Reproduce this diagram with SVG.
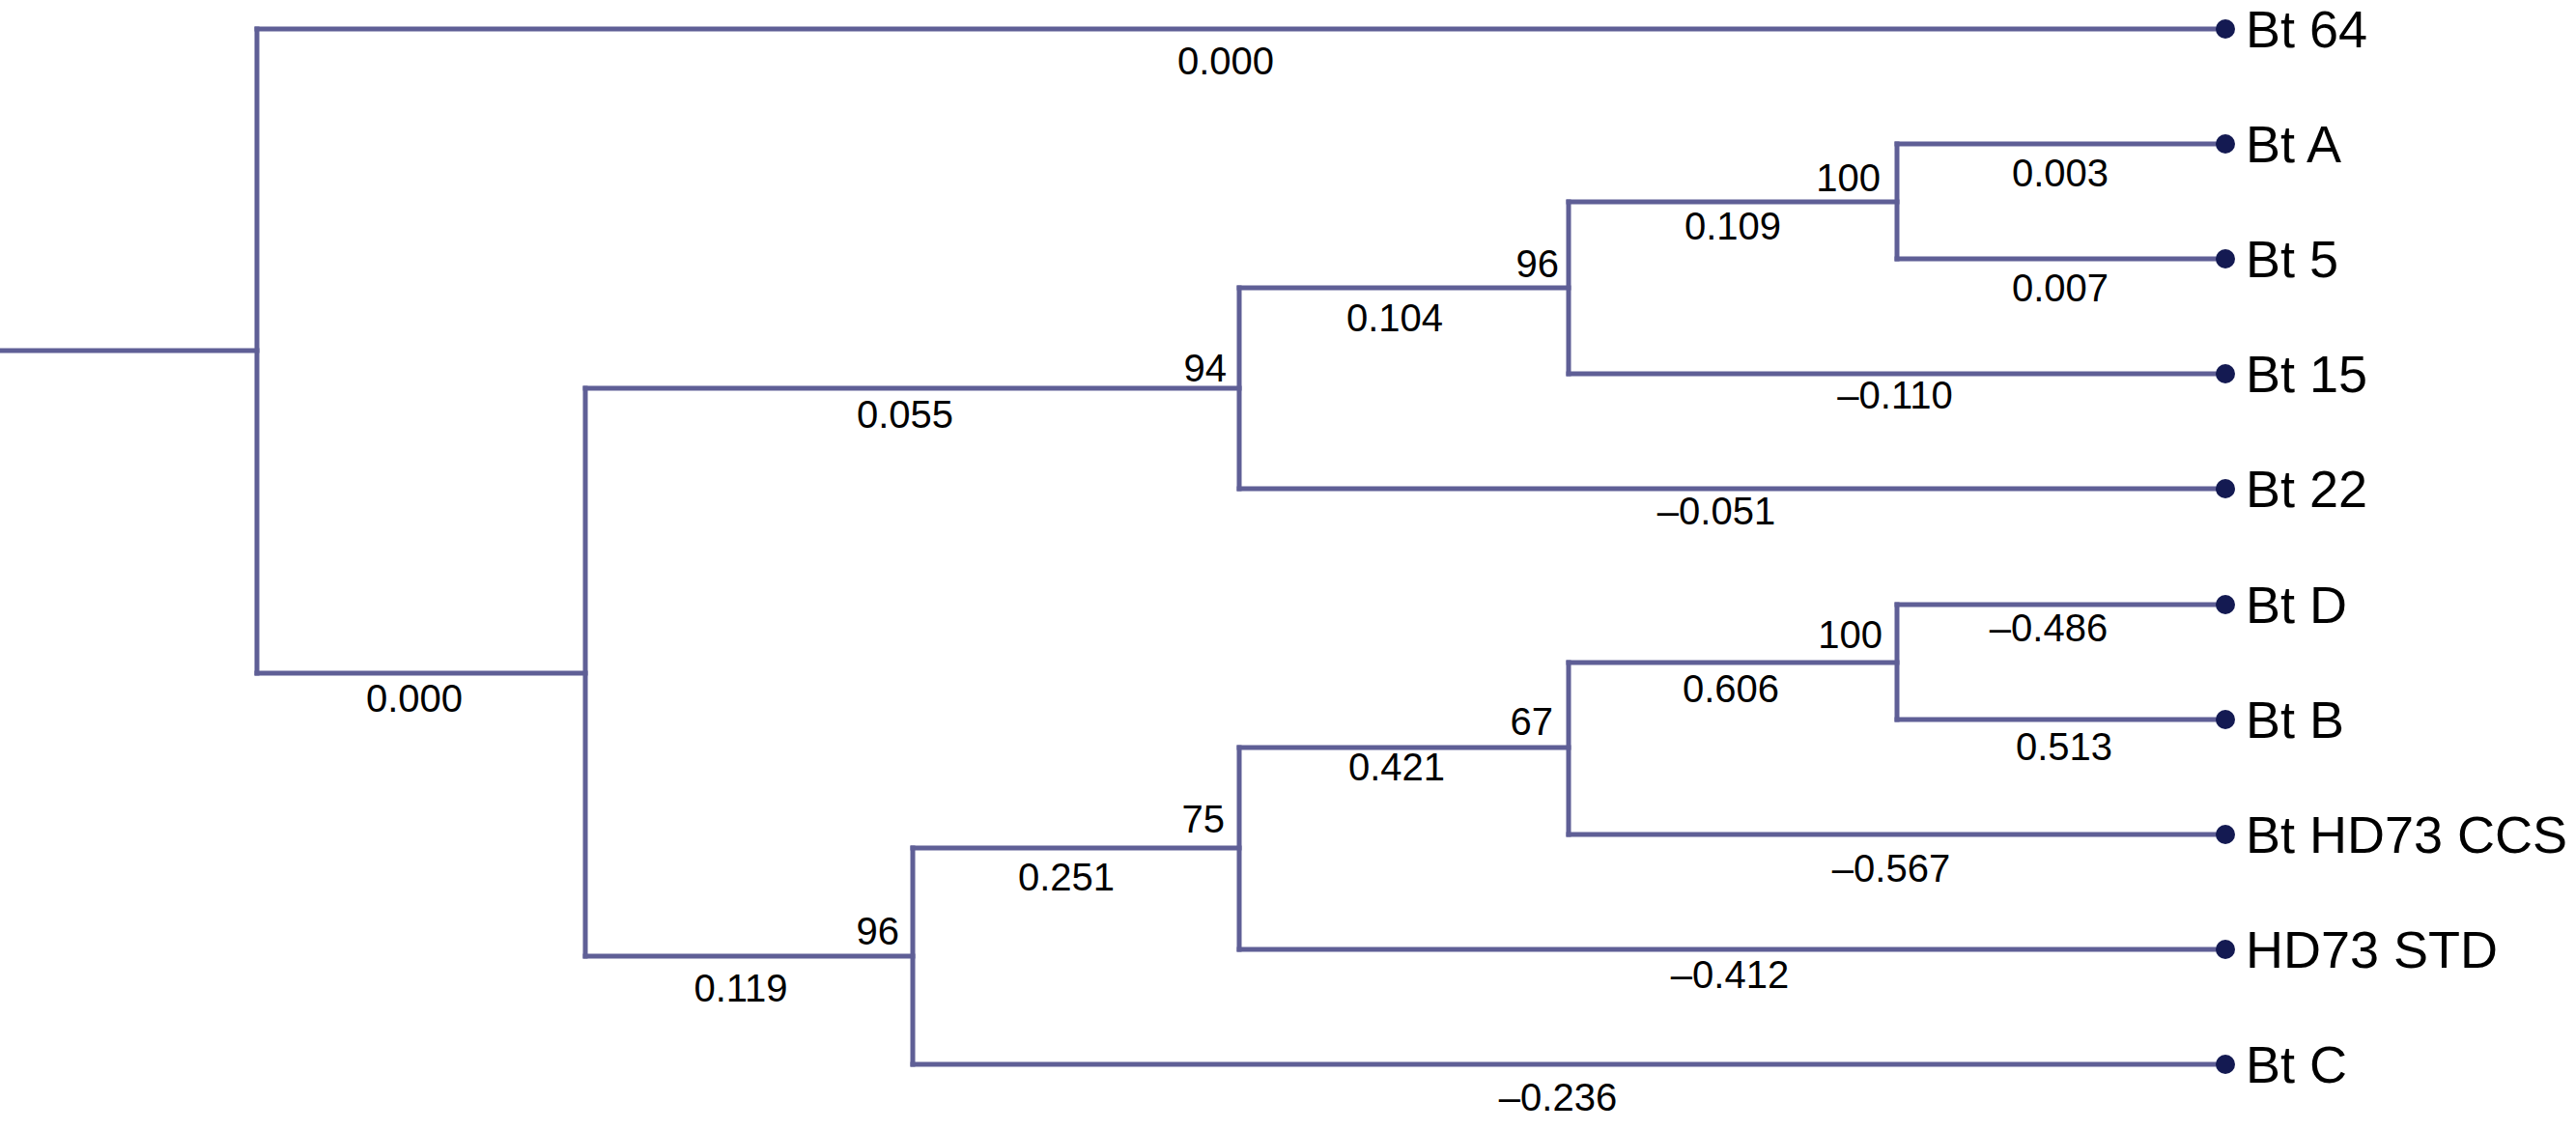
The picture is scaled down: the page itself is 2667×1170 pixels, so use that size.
<svg xmlns="http://www.w3.org/2000/svg" width="2667" height="1170" viewBox="0 0 2667 1170">
<style>
.br{fill:none;stroke:#5f5f96;stroke-width:5;stroke-linecap:square}
.dot{fill:#141a52}
.leaf{font-family:"Liberation Sans",Arial,Helvetica,sans-serif;font-size:54px;fill:#000}
.bl{font-family:"Liberation Sans",Arial,Helvetica,sans-serif;font-size:40px;fill:#000;text-anchor:middle}
.bs{font-family:"Liberation Sans",Arial,Helvetica,sans-serif;font-size:40px;fill:#000;text-anchor:end}
</style>
<rect width="2667" height="1170" fill="#fff"/>
<g id="connectors" class="br">
<path d="M0,363 H266"/>
<path d="M266,30 V697"/>
<path d="M266,30 H2304"/>
<path d="M266,697 H606"/>
<path d="M606,402 V990"/>
<path d="M606,402 H1283"/>
<path d="M606,990 H945"/>
<path d="M1283,298 V506"/>
<path d="M1283,298 H1624"/>
<path d="M1283,506 H2304"/>
<path d="M1624,209 V387"/>
<path d="M1624,209 H1964"/>
<path d="M1624,387 H2304"/>
<path d="M1964,149 V268"/>
<path d="M1964,149 H2304"/>
<path d="M1964,268 H2304"/>
<path d="M945,878 V1102"/>
<path d="M945,878 H1283"/>
<path d="M945,1102 H2304"/>
<path d="M1283,774 V983"/>
<path d="M1283,774 H1624"/>
<path d="M1283,983 H2304"/>
<path d="M1624,686 V864"/>
<path d="M1624,686 H1964"/>
<path d="M1624,864 H2304"/>
<path d="M1964,626 V745"/>
<path d="M1964,626 H2304"/>
<path d="M1964,745 H2304"/>
</g>
<g id="branch-labels">
<text class="bl" x="1269" y="77">0.000</text>
<text class="bl" x="429" y="737">0.000</text>
<text class="bl" x="937" y="443">0.055</text>
<text class="bs" x="1270" y="395">94</text>
<text class="bl" x="1444" y="343">0.104</text>
<text class="bs" x="1614" y="287">96</text>
<text class="bl" x="1794" y="248">0.109</text>
<text class="bs" x="1947" y="198">100</text>
<text class="bl" x="2133" y="193">0.003</text>
<text class="bl" x="2133" y="312">0.007</text>
<text class="bl" x="1962" y="423">–0.110</text>
<text class="bl" x="1777" y="543">–0.051</text>
<text class="bs" x="1949" y="671">100</text>
<text class="bl" x="2121" y="664">–0.486</text>
<text class="bl" x="1792" y="727">0.606</text>
<text class="bs" x="1608" y="761">67</text>
<text class="bl" x="2137" y="787">0.513</text>
<text class="bl" x="1446" y="808">0.421</text>
<text class="bl" x="1958" y="913">–0.567</text>
<text class="bs" x="1268" y="862">75</text>
<text class="bl" x="1104" y="922">0.251</text>
<text class="bs" x="931" y="978">96</text>
<text class="bl" x="767" y="1037">0.119</text>
<text class="bl" x="1791" y="1023">–0.412</text>
<text class="bl" x="1613" y="1150">–0.236</text>
</g>
<g id="leaf-bt64"><circle class="dot" cx="2304" cy="30" r="10"/><text class="leaf" x="2325" y="49">Bt 64</text></g>
<g id="leaf-btA"><circle class="dot" cx="2304" cy="149" r="10"/><text class="leaf" x="2325" y="168">Bt A</text></g>
<g id="leaf-bt5"><circle class="dot" cx="2304" cy="268" r="10"/><text class="leaf" x="2325" y="287">Bt 5</text></g>
<g id="leaf-bt15"><circle class="dot" cx="2304" cy="387" r="10"/><text class="leaf" x="2325" y="406">Bt 15</text></g>
<g id="leaf-bt22"><circle class="dot" cx="2304" cy="506" r="10"/><text class="leaf" x="2325" y="525">Bt 22</text></g>
<g id="leaf-btD"><circle class="dot" cx="2304" cy="626" r="10"/><text class="leaf" x="2325" y="645">Bt D</text></g>
<g id="leaf-btB"><circle class="dot" cx="2304" cy="745" r="10"/><text class="leaf" x="2325" y="764">Bt B</text></g>
<g id="leaf-hd73ccs"><circle class="dot" cx="2304" cy="864" r="10"/><text class="leaf" x="2325" y="883">Bt HD73 CCS</text></g>
<g id="leaf-hd73std"><circle class="dot" cx="2304" cy="983" r="10"/><text class="leaf" x="2325" y="1002">HD73 STD</text></g>
<g id="leaf-btC"><circle class="dot" cx="2304" cy="1102" r="10"/><text class="leaf" x="2325" y="1121">Bt C</text></g>
</svg>
